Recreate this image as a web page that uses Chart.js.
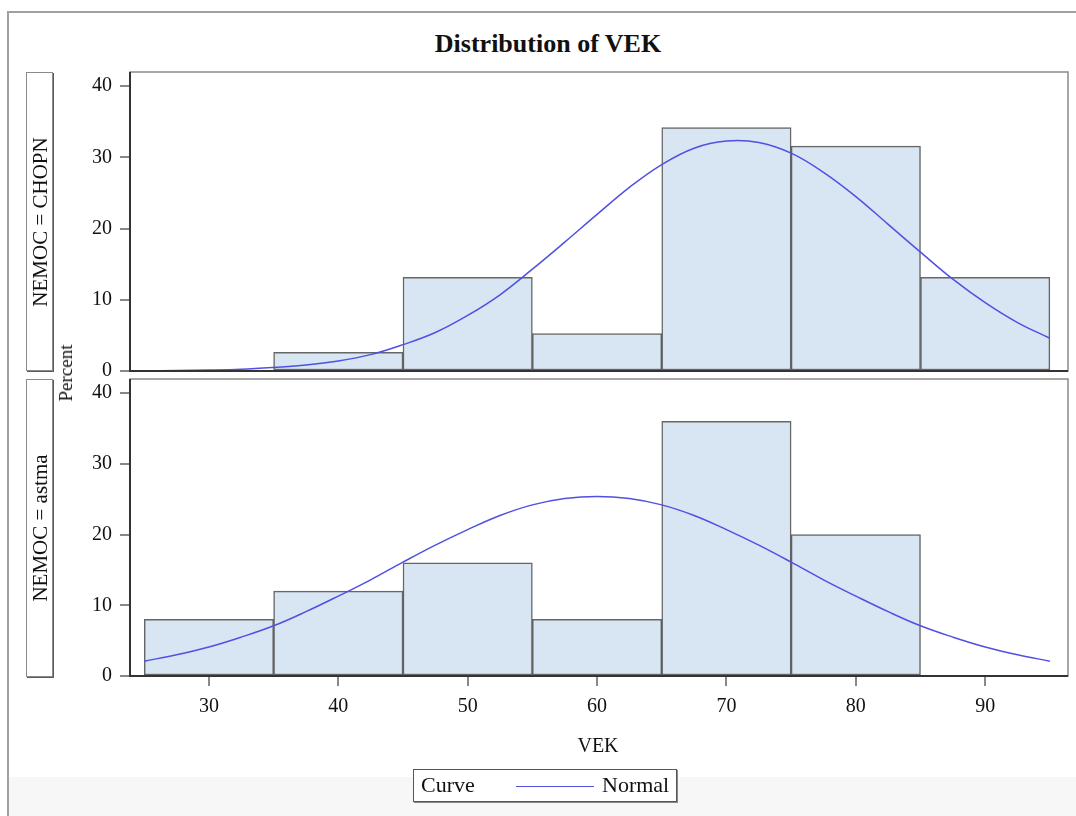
<!DOCTYPE html>
<html>
<head>
<meta charset="utf-8">
<title>Distribution of VEK</title>
<script src="https://cdn.jsdelivr.net/npm/chart.js@4/dist/chart.umd.min.js"></script>
<style>
  body { margin: 0; background: #fff; font-family: "Liberation Serif", "Times New Roman", serif; }
  #page { position: relative; width: 1076px; height: 816px; overflow: hidden; }
  #frame { position: absolute; left: 7px; top: 11px; width: 1100px; height: 830px;
           border-left: 2px solid #a0a0a0; border-top: 2px solid #a0a0a0; }
  #band { position: absolute; left: 9px; top: 777px; width: 1080px; height: 40px; background: #f7f7f7; }
  canvas { position: absolute; left: 0; }
  #title { position: absolute; left: 0; width: 1096px; top: 29px; text-align: center;
           font-weight: bold; font-size: 26px; color: #111; }
  .strip { position: absolute; left: 26px; width: 25px; border: 1px solid #8a8a8a;
           box-shadow: 1px 1px 0 #5a5a5a; background: #fff; }
  .strip span { position: absolute; left: 50%; top: 50%; white-space: nowrap; font-size: 21px;
                color: #111; transform: translate(-50%, -50%) rotate(-90deg); }
  #ytitle { position: absolute; left: 66px; top: 373px; white-space: nowrap; font-size: 19px; color: #111;
            transform: translate(-50%, -50%) rotate(-90deg); }
  #xtitle { position: absolute; left: 598px; top: 745px; transform: translate(-50%, -50%);
            font-size: 20px; color: #111; }
  #legend { position: absolute; left: 413px; top: 769px; width: 262px; height: 31px; background: #fff;
            border: 1px solid #555; box-shadow: 1px 1px 0 #888; font-size: 22px; color: #111; }
  #legend .lab { position: absolute; top: 2px; }
  #legend .swatch { position: absolute; left: 102px; top: 16px; width: 78px; height: 0;
                    border-top: 1.5px solid #5252e0; }
</style>
</head>
<body>
<div id="page">
  <div id="frame"></div>
  <div id="band"></div>
  <div id="title">Distribution of VEK</div>
  <canvas id="topChart" width="1076" height="391" style="top:0"></canvas>
  <canvas id="bottomChart" width="1076" height="417" style="top:359px"></canvas>
  <div class="strip" style="top:72px;height:297px"><span>NEMOC = CHOPN</span></div>
  <div class="strip" style="top:379px;height:296px"><span>NEMOC = astma</span></div>
  <div id="ytitle">Percent</div>
  <div id="xtitle">VEK</div>
  <div id="legend">
    <span class="lab" style="left:7px">Curve</span>
    <span class="swatch"></span>
    <span class="lab" style="left:188px">Normal</span>
  </div>
</div>

<script>
// bin midpoints (bin width 10) and percents per group
const binMids = [30, 40, 50, 60, 70, 80, 90];
const chopnPct = [null, 2.63, 13.16, 5.26, 34.21, 31.58, 13.16];
const astmaPct = [8, 12, 16, 8, 36, 20, null];

// fitted normal curves, sampled every 2.5 years
const curveX = [25, 27.5, 30, 32.5, 35, 37.5, 40, 42.5, 45, 47.5, 50, 52.5, 55, 57.5, 60,
                62.5, 65, 67.5, 70, 72.5, 75, 77.5, 80, 82.5, 85, 87.5, 90, 92.5, 95];
const chopnCurve = [0.03, 0.07, 0.13, 0.25, 0.5, 0.83, 1.4, 2.3, 3.7, 5.4, 7.8, 10.7, 14.3, 18.1, 22.0,
                    25.8, 29.0, 31.3, 32.3, 32.1, 30.6, 27.9, 24.5, 20.6, 16.7, 12.9, 9.6, 6.8, 4.6];
const astmaCurve = [2.1, 3.0, 4.1, 5.5, 7.1, 9.1, 11.3, 13.6, 16.1, 18.5, 20.7, 22.7, 24.2, 25.1, 25.4,
                    25.1, 24.2, 22.7, 20.7, 18.5, 16.1, 13.6, 11.3, 9.1, 7.1, 5.5, 4.1, 3.0, 2.1];

const yTicks = [0, 10, 20, 30, 40];
const xTicks = [30, 40, 50, 60, 70, 80, 90];

const X_MIN = 23.9, X_MAX = 96.4, Y_MAX = 42;
const FONT = '"Liberation Serif", "Times New Roman", serif';

// plot box: thin gray outline, darker left/bottom axis lines
const framePlugin = {
  id: 'frame',
  afterDraw(chart) {
    const { ctx, chartArea: a } = chart;
    ctx.save();
    ctx.strokeStyle = '#8a8a8a';
    ctx.lineWidth = 1.5;
    ctx.strokeRect(a.left, a.top, a.right - a.left, a.bottom - a.top);
    ctx.strokeStyle = '#333';
    ctx.lineWidth = 2;
    ctx.beginPath();
    ctx.moveTo(a.left, a.top);
    ctx.lineTo(a.left, a.bottom);
    ctx.lineTo(a.right, a.bottom);
    ctx.stroke();
    ctx.restore();
  }
};

function makePanel(id, pct, curve, showX, padding) {
  const ctx = document.getElementById(id).getContext('2d');
  return new Chart(ctx, {
    type: 'bar',
    data: {
      datasets: [
        {
          type: 'line',
          label: 'Normal',
          data: curveX.map((x, i) => ({ x: x, y: curve[i] })),
          borderColor: '#5050e2',
          borderWidth: 1.5,
          pointRadius: 0,
          tension: 0.4,
          fill: false,
          order: 0
        },
        {
          type: 'bar',
          label: 'VEK',
          data: binMids.map((x, i) => ({ x: x, y: pct[i] })),
          backgroundColor: '#d8e5f2',
          borderColor: 'rgba(75, 75, 75, 0.85)',
          borderWidth: 1.5,
          borderSkipped: false,
          barPercentage: 1,
          categoryPercentage: 1,
          order: 1
        }
      ]
    },
    options: {
      responsive: false,
      animation: false,
      layout: { padding: padding },
      plugins: { legend: { display: false }, tooltip: { enabled: false } },
      scales: {
        x: {
          type: 'linear',
          display: showX,
          min: X_MIN,
          max: X_MAX,
          offset: false,
          afterFit: s => { if (showX) s.height = 100; },
          afterBuildTicks: s => { s.ticks = xTicks.map(v => ({ value: v })); },
          grid: { offset: false, drawOnChartArea: false, drawTicks: true, tickLength: 10, color: '#888', lineWidth: 2 },
          border: { display: false },
          ticks: { padding: 9, color: '#111', font: { family: FONT, size: 20 }, maxRotation: 0 }
        },
        y: {
          min: 0,
          max: Y_MAX,
          afterFit: s => { s.width = 130; },
          afterBuildTicks: s => { s.ticks = yTicks.map(v => ({ value: v })); },
          grid: { drawOnChartArea: false, drawTicks: true, tickLength: 10, color: '#888', lineWidth: 2 },
          border: { display: false },
          ticks: { padding: 8, color: '#111', font: { family: FONT, size: 20 } }
        }
      }
    },
    plugins: [framePlugin]
  });
}

makePanel('topChart', chopnPct, chopnCurve, false, { left: 0, top: 72, right: 8, bottom: 2 });
makePanel('bottomChart', astmaPct, astmaCurve, true, { left: 0, top: 6, right: 8, bottom: 0 });
</script>
</body>
</html>
